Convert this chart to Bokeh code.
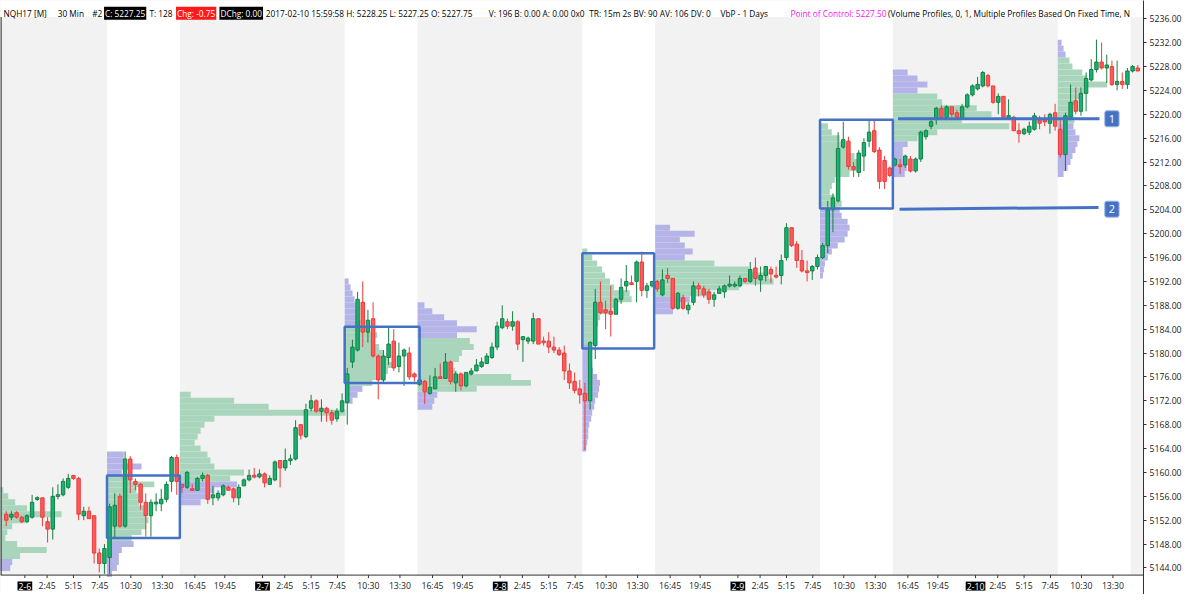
from bokeh.plotting import figure
from bokeh.models import (Range1d, FixedTicker, PrintfTickFormatter,
                          BoxAnnotation, Label, Span, ColumnDataSource)
from bokeh.embed import file_html
from bokeh.resources import INLINE

# ---------------------------------------------------------------- data
# 30-minute OHLC bars (open, high, low, close) per trading session
day_2_6 = [
    (5153.0, 5153.5, 5151.0, 5152.0), (5152.5, 5153.5, 5152.0, 5153.0), (5153.25, 5153.5, 5152.25, 5152.5),
    (5152.5, 5152.75, 5151.5, 5151.75), (5151.75, 5153.0, 5151.5, 5152.75), (5152.5, 5156.25, 5152.25, 5155.0),
    (5155.5, 5156.0, 5155.25, 5155.75), (5155.75, 5155.75, 5151.0, 5152.5), (5151.75, 5152.5, 5148.25, 5150.5),
    (5150.5, 5157.5, 5148.75, 5156.0), (5156.0, 5158.0, 5155.5, 5156.25), (5156.25, 5159.0, 5156.0, 5158.5),
    (5157.5, 5159.75, 5157.25, 5159.0), (5159.5, 5159.5, 5158.75, 5159.0), (5159.0, 5159.25, 5152.0, 5153.0),
    (5152.75, 5154.25, 5152.0, 5153.5), (5153.5, 5154.25, 5152.25, 5152.25), (5152.75, 5152.75, 5144.75, 5146.5),
    (5146.5, 5147.25, 5143.25, 5144.75), (5144.75, 5148.0, 5143.0, 5147.25),
    (5145.75, 5154.75, 5143.0, 5154.25), (5151.0, 5156.5, 5149.0, 5154.5), (5156.0, 5156.5, 5150.75, 5151.0),
    (5151.0, 5163.5, 5150.75, 5162.25), (5162.25, 5162.75, 5156.5, 5158.75), (5158.5, 5159.0, 5157.0, 5158.0),
    (5158.0, 5158.25, 5153.75, 5155.0), (5155.0, 5156.5, 5149.25, 5152.75), (5152.75, 5155.5, 5149.25, 5155.0),
    (5154.75, 5156.5, 5153.5, 5155.0), (5154.75, 5157.25, 5153.5, 5155.5), (5155.5, 5158.5, 5155.0, 5158.0),
    (5158.5, 5162.75, 5156.75, 5162.5), (5162.5, 5163.0, 5156.25, 5158.5),
    (5158.0, 5158.0, 5156.5, 5157.5), (5157.5, 5160.25, 5157.25, 5160.0),
]
day_2_7 = [
    (5157.25, 5158.0, 5157.0, 5157.0), (5157.0, 5159.25, 5157.0, 5159.0), (5159.0, 5160.0, 5158.5, 5159.5),
    (5159.5, 5159.75, 5154.75, 5155.5), (5155.75, 5157.75, 5154.5, 5156.25), (5155.75, 5157.0, 5155.25, 5156.5),
    (5156.25, 5158.0, 5156.0, 5157.75), (5157.5, 5157.75, 5157.0, 5157.0), (5157.25, 5157.5, 5155.0, 5155.75),
    (5155.75, 5158.0, 5154.5, 5157.5), (5157.75, 5159.0, 5157.75, 5158.75), (5158.75, 5160.5, 5158.5, 5159.5),
    (5159.5, 5160.75, 5159.0, 5159.25), (5159.25, 5160.5, 5159.0, 5159.75), (5159.75, 5160.0, 5157.5, 5158.25),
    (5158.0, 5159.5, 5158.0, 5159.0), (5158.75, 5162.0, 5158.5, 5161.75), (5162.0, 5162.0, 5157.5, 5160.75),
    (5160.75, 5164.0, 5160.25, 5162.0), (5162.0, 5163.0, 5161.25, 5162.25), (5162.25, 5168.75, 5162.0, 5167.5),
    (5168.0, 5168.0, 5165.5, 5166.25), (5166.0, 5171.5, 5165.75, 5170.5), (5170.75, 5173.0, 5170.25, 5172.0),
    (5172.0, 5172.25, 5170.0, 5170.25), (5170.25, 5172.25, 5168.5, 5170.75), (5170.75, 5171.0, 5168.5, 5170.0),
    (5170.0, 5170.5, 5168.0, 5168.75), (5169.0, 5170.75, 5168.5, 5170.25), (5170.25, 5173.25, 5170.0, 5172.0),
    (5171.75, 5177.5, 5168.0, 5176.5), (5178.5, 5182.25, 5177.5, 5181.0), (5180.5, 5190.25, 5180.25, 5189.0),
    (5188.5, 5192.0, 5181.0, 5183.5), (5183.5, 5187.25, 5181.75, 5185.5), (5185.75, 5188.5, 5179.25, 5179.5),
    (5179.5, 5179.75, 5172.25, 5175.5), (5175.5, 5180.5, 5175.0, 5179.5), (5179.25, 5184.5, 5178.0, 5181.5),
    (5182.0, 5184.0, 5177.0, 5177.5), (5177.75, 5181.75, 5176.75, 5179.5), (5179.5, 5180.75, 5174.5, 5180.5),
    (5180.0, 5181.0, 5175.5, 5176.0), (5176.5, 5176.75, 5175.25, 5176.0),
    (5174.75, 5176.0, 5174.5, 5175.5), (5175.25, 5175.5, 5171.5, 5173.5),
]
day_2_8 = [
    (5173.25, 5176.25, 5173.0, 5174.25), (5174.0, 5177.5, 5174.0, 5176.0), (5176.0, 5178.25, 5175.75, 5175.75),
    (5175.75, 5180.0, 5175.75, 5178.5), (5178.5, 5178.75, 5174.75, 5175.25), (5175.0, 5177.0, 5173.5, 5176.5),
    (5176.5, 5176.75, 5173.75, 5174.5), (5174.5, 5176.75, 5174.25, 5176.75), (5176.5, 5177.5, 5176.25, 5177.0),
    (5177.0, 5179.0, 5177.0, 5178.0), (5177.75, 5179.25, 5177.5, 5178.5), (5178.25, 5180.0, 5178.25, 5179.5),
    (5179.25, 5181.75, 5179.0, 5181.0), (5181.0, 5185.25, 5180.5, 5184.5), (5184.25, 5188.0, 5184.0, 5185.75),
    (5185.25, 5185.75, 5184.0, 5184.5), (5184.5, 5187.0, 5183.75, 5185.25), (5185.25, 5185.5, 5180.5, 5181.5),
    (5182.25, 5182.75, 5178.5, 5182.75), (5182.0, 5182.75, 5181.5, 5182.5), (5182.0, 5186.75, 5181.5, 5185.75),
    (5185.75, 5185.75, 5181.5, 5181.5), (5182.0, 5182.75, 5181.25, 5181.75), (5182.0, 5183.5, 5180.0, 5181.0),
    (5181.0, 5182.75, 5180.0, 5180.5), (5180.5, 5181.0, 5179.5, 5179.75), (5180.0, 5181.25, 5175.5, 5177.0),
    (5177.0, 5178.25, 5174.0, 5175.0), (5175.25, 5176.75, 5173.25, 5173.75), (5174.0, 5175.5, 5171.5, 5173.0),
    (5173.25, 5175.0, 5163.75, 5172.0), (5172.0, 5182.0, 5170.5, 5181.75), (5181.25, 5190.75, 5179.0, 5188.5),
    (5188.5, 5192.0, 5186.5, 5186.75), (5187.25, 5188.75, 5184.0, 5186.75), (5187.0, 5191.25, 5182.75, 5186.5),
    (5186.5, 5189.25, 5186.5, 5189.0), (5189.0, 5192.5, 5188.25, 5191.0), (5191.25, 5194.75, 5190.25, 5192.0),
    (5191.75, 5193.0, 5191.5, 5191.5), (5192.0, 5195.5, 5188.5, 5195.25), (5195.25, 5197.0, 5189.5, 5190.5),
    (5190.5, 5191.75, 5189.25, 5191.25), (5191.25, 5192.0, 5191.0, 5192.0),
    (5192.0, 5192.25, 5190.25, 5190.75), (5189.75, 5194.0, 5189.5, 5192.25),
]
day_2_9 = [
    (5193.0, 5194.25, 5191.75, 5192.5), (5192.5, 5192.5, 5187.25, 5187.5), (5187.5, 5190.25, 5187.25, 5190.0),
    (5189.25, 5189.75, 5187.25, 5187.5), (5187.25, 5188.5, 5186.5, 5188.0), (5188.5, 5192.0, 5188.0, 5191.25),
    (5191.25, 5191.75, 5189.5, 5190.75), (5190.75, 5191.25, 5189.25, 5189.75), (5190.25, 5190.75, 5188.25, 5189.0),
    (5189.0, 5190.25, 5187.75, 5189.75), (5190.0, 5191.25, 5190.0, 5190.75), (5190.25, 5191.5, 5189.25, 5191.25),
    (5191.25, 5193.0, 5191.0, 5191.5), (5191.25, 5192.0, 5191.0, 5191.5), (5191.25, 5193.0, 5191.0, 5192.5),
    (5192.5, 5192.5, 5191.75, 5192.0), (5192.0, 5195.25, 5191.75, 5194.0), (5194.25, 5196.0, 5191.25, 5192.5),
    (5192.25, 5194.5, 5190.25, 5193.0), (5193.0, 5194.5, 5192.0, 5194.5), (5194.0, 5194.5, 5191.75, 5193.25),
    (5193.0, 5194.5, 5192.5, 5192.75), (5193.0, 5196.5, 5191.5, 5195.5), (5196.0, 5201.75, 5195.5, 5201.0),
    (5201.0, 5201.0, 5197.75, 5198.0), (5198.25, 5198.75, 5194.25, 5195.5), (5195.5, 5197.25, 5193.5, 5193.75),
    (5193.75, 5195.5, 5192.0, 5193.5), (5193.75, 5194.75, 5192.25, 5194.5), (5194.5, 5196.5, 5194.0, 5196.0),
    (5196.0, 5198.5, 5195.75, 5198.0), (5198.0, 5205.5, 5196.75, 5204.0), (5204.0, 5206.75, 5200.25, 5206.0),
    (5205.5, 5217.0, 5205.25, 5214.25), (5214.5, 5218.75, 5214.25, 5215.75), (5215.5, 5216.25, 5210.75, 5211.25),
    (5211.25, 5212.0, 5209.5, 5210.75), (5210.25, 5214.0, 5209.5, 5213.5), (5213.0, 5216.0, 5210.5, 5215.25),
    (5215.5, 5219.0, 5214.5, 5217.0), (5217.25, 5219.0, 5213.5, 5213.75), (5214.0, 5214.5, 5207.5, 5208.75),
    (5212.25, 5213.0, 5207.5, 5208.75), (5211.0, 5211.25, 5209.5, 5209.75),
    (5211.5, 5212.75, 5211.25, 5212.5), (5211.5, 5212.5, 5210.0, 5211.25),
]
day_2_10 = [
    (5211.5, 5213.25, 5211.0, 5213.0), (5212.5, 5213.0, 5210.25, 5210.5), (5210.5, 5212.75, 5210.25, 5212.5),
    (5212.5, 5217.25, 5212.0, 5217.0), (5216.25, 5217.5, 5215.75, 5217.25), (5218.0, 5219.5, 5217.5, 5218.75),
    (5219.25, 5221.25, 5218.25, 5221.0), (5221.0, 5221.5, 5219.0, 5219.5), (5219.5, 5221.5, 5219.0, 5221.25),
    (5221.25, 5221.25, 5219.5, 5220.0), (5220.25, 5220.75, 5219.25, 5219.5), (5219.5, 5221.75, 5219.5, 5221.25),
    (5221.25, 5223.5, 5221.0, 5223.25), (5223.25, 5225.0, 5223.0, 5224.75), (5224.25, 5226.25, 5224.0, 5225.0),
    (5224.75, 5227.25, 5224.5, 5227.0), (5226.5, 5226.75, 5224.5, 5224.75), (5224.75, 5224.75, 5221.75, 5222.0),
    (5222.0, 5223.5, 5220.0, 5223.0), (5223.0, 5223.0, 5219.25, 5219.5), (5219.5, 5222.5, 5219.25, 5219.75),
    (5219.5, 5219.75, 5217.25, 5217.25), (5217.25, 5218.5, 5215.25, 5216.75), (5216.75, 5217.75, 5216.5, 5217.5),
    (5217.0, 5218.75, 5216.5, 5218.0), (5217.5, 5220.25, 5217.25, 5219.75), (5219.0, 5219.75, 5217.5, 5218.5),
    (5219.0, 5220.0, 5218.0, 5218.75), (5218.5, 5220.25, 5216.75, 5220.0), (5220.25, 5221.75, 5217.25, 5218.0),
    (5217.5, 5219.0, 5212.75, 5213.25), (5213.25, 5220.25, 5210.5, 5219.75), (5219.5, 5225.0, 5219.0, 5222.0),
    (5222.25, 5224.5, 5220.0, 5220.5), (5220.5, 5224.5, 5219.75, 5223.5), (5223.5, 5227.0, 5220.5, 5226.0),
    (5225.75, 5229.25, 5225.5, 5227.5), (5227.5, 5232.5, 5227.0, 5228.75), (5228.75, 5232.0, 5227.5, 5227.75),
    (5227.75, 5230.0, 5225.25, 5228.25), (5228.0, 5229.0, 5224.75, 5225.0), (5225.0, 5229.0, 5224.0, 5225.5),
    (5225.5, 5227.0, 5224.25, 5225.0), (5225.0, 5227.75, 5224.25, 5227.25),
    (5227.25, 5228.25, 5227.0, 5228.0), (5227.75, 5228.25, 5227.25, 5227.25),
]
sessions = [day_2_6, day_2_7, day_2_8, day_2_9, day_2_10]
session_dates = ["2-6", "2-7", "2-8", "2-9", "2-10"]
BARS_PER_SESSION = 46
FIRST_VISIBLE_BAR = 10
RTH_START, RTH_END = 29.5, 43.6          # day-session span inside each session (bar offsets)

# time axis labels (bar offset inside a session)
date_tick_offset = 13.6
time_tick_labels = ["2:45", "5:15", "7:45", "10:30", "13:30", "16:45", "19:45"]
time_tick_offsets = [17.9, 23.0, 28.1, 34.1, 40.2, 46.5, 52.3]
price_ticks = list(range(5144, 5237, 4))

# volume-by-price profiles: (session, kind, lowest price, volume per 1-pt row, value area low, value area high)
vp_eth_2_6 = [69, 71, 79, 106, 76, 64, 66, 71, 84, 121, 86, 74, 67, 62]
vp_rth_2_6 = [5, 10, 12, 12, 15, 27, 25, 35, 40, 42, 40, 38, 33, 32, 30, 48, 25, 15, 35, 17, 17]
vp_eth_2_7 = [21, 31, 35, 58, 51, 65, 35, 31, 28, 21, 15, 18, 21, 25, 35, 168, 90, 55, 11]
vp_rth_2_7 = [8, 13, 18, 28, 38, 44, 48, 45, 40, 35, 30, 33, 25, 16, 14, 12, 11, 10, 8, 6, 4]
vp_eth_2_8 = [15, 17, 20, 60, 115, 95, 38, 35, 42, 45, 57, 53, 40, 60, 40, 27, 15, 7]
vp_rth_2_8 = [4, 5, 6, 6, 7, 9, 10, 12, 13, 16, 17, 18, 15, 11, 10, 9, 8, 8,
              13, 12, 14, 16, 18, 30, 35, 50, 48, 32, 28, 23, 20, 15, 10, 5]
vp_eth_2_9 = [18, 22, 35, 55, 85, 120, 115, 95, 60, 30, 38, 30, 25, 40, 15]
vp_rth_2_9 = [3, 4, 5, 8, 12, 18, 25, 28, 30, 28, 22, 20, 22, 15, 10, 12, 15, 30, 40, 42, 35, 30, 25, 20, 12, 8]
vp_eth_2_10 = [12, 14, 12, 10, 10, 15, 25, 45, 118, 70, 100, 85, 50, 45, 25, 35, 25, 15]
vp_rth_2_10 = [6, 10, 13, 15, 18, 20, 22, 18, 16, 17, 16, 15, 20, 25, 30, 50, 30, 25, 15, 12, 8, 6, 4]
profiles = [
    (0, "eth", 5144, vp_eth_2_6, 5146, 5157),
    (0, "rth", 5143, vp_rth_2_6, 5149, 5159),
    (1, "eth", 5155, vp_eth_2_7, 5159, 5173),
    (1, "rth", 5172, vp_rth_2_7, 5175, 5184),
    (2, "eth", 5171, vp_eth_2_8, 5174, 5182),
    (2, "rth", 5164, vp_rth_2_8, 5182, 5197),
    (3, "eth", 5187, vp_eth_2_9, 5190, 5195),
    (3, "rth", 5193, vp_rth_2_9, 5205, 5218),
    (4, "eth", 5210, vp_eth_2_10, 5216, 5223),
    (4, "rth", 5210, vp_rth_2_10, 5219, 5229),
]
VOL_TO_BARS = 1 / 5.239

# drawn rectangles (day-session ranges) and horizontal levels
box_left = [29.5, 75.5, 121.5, 167.5]
box_right = [43.6, 90.0, 135.4, 181.6]
box_top = [5159.5, 5184.4, 5196.7, 5219.1]
box_bottom = [5149.0, 5175.0, 5180.75, 5204.2]
level_names = ["1", "2"]
level_x0 = [182.6, 182.9]
level_x1 = [221.6, 221.4]
level_y0 = [5219.25, 5204.1]
level_y1 = [5219.25, 5204.4]
LEVEL_TAG_BAR = 224.0

# ---------------------------------------------------------------- figure
FRAME_W, FRAME_H = 1143, 594
REF_W, REF_H = 1159.0, 610.0
FONT = "Open Sans"
FS = "8.7px"
HFS = "8.3px"
BLUE = "#4472C4"
X0, X1 = 8.885, 230.11              # visible bars
Y0, Y1 = 5139.55, 5239.06           # whole canvas height (incl. header and time strip)
PLOT_BOTTOM, PLOT_TOP = 5142.8, 5236.29

p = figure(width=1184, height=594, output_backend="svg", toolbar_location=None,
           x_range=Range1d(X0, X1), y_range=Range1d(Y0, Y1),
           y_axis_location="right", min_border_left=0, min_border_right=41,
           min_border_top=0, min_border_bottom=0)
p.background_fill_color = "#F2F2F2"
p.border_fill_color = "white"
p.outline_line_color = None
p.xgrid.visible = False
p.ygrid.visible = False
p.xaxis.visible = False

# header strip and time strip (white)
p.add_layout(BoxAnnotation(bottom=PLOT_TOP, fill_color="white", fill_alpha=1.0, line_alpha=0, level="underlay"))
p.add_layout(BoxAnnotation(top=PLOT_BOTTOM, fill_color="white", fill_alpha=1.0, line_alpha=0, level="underlay"))
# day-session (white) bands
for s in range(len(sessions)):
    p.add_layout(BoxAnnotation(left=s * BARS_PER_SESSION + RTH_START, right=s * BARS_PER_SESSION + RTH_END,
                               bottom=PLOT_BOTTOM, top=PLOT_TOP,
                               fill_color="white", fill_alpha=1.0, line_alpha=0, level="underlay"))

# volume profiles
pl, pr, pb, pt, pc = [], [], [], [], []
for s, kind, low, vols, va_lo, va_hi in profiles:
    start = (s * BARS_PER_SESSION + RTH_START) if kind == "rth" else ((s - 1) * BARS_PER_SESSION + RTH_END)
    for i, v in enumerate(vols):
        price = low + i
        pl.append(start)
        pr.append(start + v * VOL_TO_BARS)
        pb.append(price - 0.5)
        pt.append(price + 0.5)
        pc.append("#A9D5BD" if va_lo <= price <= va_hi else "#B4B4E8")
p.quad(left=pl, right=pr, bottom=pb, top=pt, fill_color=pc, line_color=None)

# candles
xs, hi_, lo_, btop, bbot, fill, line = [], [], [], [], [], [], []
for s, bars in enumerate(sessions):
    first = FIRST_VISIBLE_BAR if s == 0 else s * BARS_PER_SESSION
    for i, (o, h, l, c) in enumerate(bars):
        xs.append(first + i)
        hi_.append(h)
        lo_.append(l)
        t, b = max(o, c), min(o, c)
        if t - b < 0.3:
            m = (t + b) / 2
            t, b = m + 0.15, m - 0.15
        btop.append(t)
        bbot.append(b)
        up = c >= o
        fill.append("#15B27A" if up else "#FF5A5A")
        line.append("#16803F" if up else "#EC3B3B")
src = ColumnDataSource(dict(x=xs, h=hi_, l=lo_, t=btop, b=bbot, fill=fill, line=line))
p.segment(x0="x", y0="l", x1="x", y1="h", line_color="line", line_width=1, source=src)
p.vbar(x="x", width=0.66, top="t", bottom="b", fill_color="fill", line_color="line", line_width=1, source=src)

# drawn rectangles and levels
p.quad(left=box_left, right=box_right, top=box_top, bottom=box_bottom,
       fill_color=None, line_color=BLUE, line_width=2.5)
p.segment(x0=level_x0, y0=level_y0, x1=level_x1, y1=level_y1, line_color=BLUE, line_width=3)
for name, y in zip(level_names, level_y0):
    p.add_layout(Label(x=LEVEL_TAG_BAR, y=y, text=name, text_align="center", text_baseline="middle",
                       text_color="white", text_font=FONT, text_font_size="11px",
                       background_fill_color=BLUE, border_line_color="#9DB5E0", padding=4, border_radius=2))

# frame edges of the price area
p.segment(x0=[X0 + 0.08], y0=[PLOT_BOTTOM], x1=[X0 + 0.08], y1=[PLOT_TOP], line_color="#333333", line_width=1.5)
p.add_layout(Span(location=PLOT_BOTTOM, dimension="width", line_color="#333333", line_width=1))

# right price axis
ya = p.yaxis[0]
ya.ticker = FixedTicker(ticks=price_ticks)
ya.formatter = PrintfTickFormatter(format="%.2f")
ya.major_label_text_font = FONT
ya.major_label_text_font_size = FS
ya.major_label_text_color = "#222222"
ya.major_tick_out = 3
ya.major_tick_in = 0
ya.minor_tick_line_color = None
ya.axis_line_color = "#333333"
ya.major_tick_line_color = "#333333"
ya.major_label_standoff = 3

# time scale along the bottom of the price area
tick_x, tick_lab = [], []
for s, d in enumerate(session_dates):
    base = s * BARS_PER_SESSION
    dt = base + date_tick_offset
    tick_x.append(dt)
    p.add_layout(Label(x=dt, y=PLOT_BOTTOM, y_offset=-11, text=d, text_align="center", text_baseline="middle",
                       text_color="white", text_font=FONT, text_font_size=FS,
                       background_fill_color="black", padding=1))
    for lab, off in zip(time_tick_labels, time_tick_offsets):
        t = base + off
        if t < X1 - 0.5:
            tick_x.append(t)
            tick_lab.append((t, lab))
tick_px = 3 * (Y1 - Y0) / FRAME_H
p.segment(x0=tick_x, y0=[PLOT_BOTTOM] * len(tick_x), x1=tick_x, y1=[PLOT_BOTTOM - tick_px] * len(tick_x),
          line_color="#333333", line_width=1)
for t, lab in tick_lab:
    p.add_layout(Label(x=t, y=PLOT_BOTTOM, y_offset=-11, text=lab, text_align="center", text_baseline="middle",
                       text_color="#222222", text_font=FONT, text_font_size=FS))

# header line
header = [
    ("NQH17 [M]", 2, "black", None),
    ("30 Min", 57, "black", None),
    ("#2", 92, "black", None),
    ("C: 5227.25", 105, "white", "black"),
    ("T: 128", 150, "black", None),
    ("Chg: -0.75", 178, "white", "#FF1A1A"),
    ("DChg: 0.00", 222, "white", "black"),
    ("2017-02-10 15:59:58 H: 5228.25 L: 5227.25 O: 5227.75", 268, "black", None),
    ("V: 196 B: 0.00 A: 0.00 0x0", 494, "black", None),
    ("TR: 15m 2s BV: 90 AV: 106 DV: 0", 596, "black", None),
    ("VbP - 1 Days", 729, "black", None),
    ("Point of Control: 5227.50", 800, "#F020F0", None),
    ("(Volume Profiles, 0, 1, Multiple Profiles Based On Fixed Time, N", 899, "black", None),
]
for text, rx, color, bg in header:
    p.add_layout(Label(x=rx * FRAME_W / REF_W, y=FRAME_H - 13 * FRAME_H / REF_H, x_units="screen", y_units="screen",
                       text=text, text_baseline="alphabetic", text_color=color, text_font=FONT,
                       text_font_size=HFS, background_fill_color=bg, padding=1))

open("out.html", "w").write(file_html(p, INLINE))
